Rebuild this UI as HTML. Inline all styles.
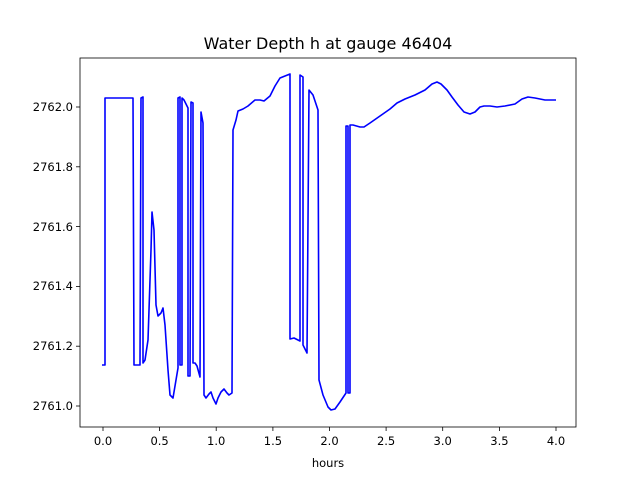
<!DOCTYPE html>
<html><head><meta charset="utf-8"><style>body{margin:0;background:#fff}svg{display:block}text{font-family:"DejaVu Sans","Liberation Sans",sans-serif;font-size:11.5px;fill:#000}</style></head>
<body>
<svg width="640" height="480" viewBox="0 0 640 480">
<rect width="640" height="480" fill="#fff"/>
<text x="328" y="49" text-anchor="middle" style="font-size:16px">Water Depth h at gauge 46404</text>
<polyline fill="none" stroke="#0000ff" stroke-width="1.6" stroke-linejoin="round" points="102,365 105,365 105,98 133,98 134,365 140,365 141,98 143,97 143,363 145,360 148,340 151,250 152,212 154,230 156,305 158,316 161,313 163,308 165,325 168,370 170,395 173,398 176,380 178,368 178,98 180,97 180,365 182,365 182,98 184,100 188,108 188,376 190,376 191,102 193,103 193,363 195,363 197,366 200,377 201,112 203,123 204,395 206,398 209,394 211,392 213,398 216,404 218,398 221,392 224,389 227,393 229,395 232,393 233,130 236,120 238,111 243,109 248,106 255,100 260,100 264,101 270,96 275,86 280,78 290,74 290,339 294,338 300,341 300,75 303,77 303,345 307,353 309,90 313,95 318,110 319,380 323,395 328,407 331,410 335,409 340,402 346,393 346,126 348,126 348,393 350,393 350,125 353,125 360,127 364,127 370,123 380,116 390,109 397,103 405,99 415,95 425,90 432,84 437,82 441,84 447,90 452,97 458,105 464,112 470,114 475,112 480,107 484,106 490,106 497,107 505,106 515,104 522,99 528,97 535,98 545,100 556,100"/>
<rect x="80" y="58" width="496" height="369" fill="none" stroke="#000" stroke-width="0.8"/>
<g stroke="#000" stroke-width="0.8">
<line x1="103" y1="427" x2="103" y2="431"/><line x1="159.6" y1="427" x2="159.6" y2="431"/><line x1="216.2" y1="427" x2="216.2" y2="431"/><line x1="272.9" y1="427" x2="272.9" y2="431"/><line x1="329.5" y1="427" x2="329.5" y2="431"/><line x1="386.1" y1="427" x2="386.1" y2="431"/><line x1="442.7" y1="427" x2="442.7" y2="431"/><line x1="499.4" y1="427" x2="499.4" y2="431"/><line x1="556" y1="427" x2="556" y2="431"/>
<line x1="76" y1="406" x2="80" y2="406"/><line x1="76" y1="346.2" x2="80" y2="346.2"/><line x1="76" y1="286.4" x2="80" y2="286.4"/><line x1="76" y1="226.6" x2="80" y2="226.6"/><line x1="76" y1="166.8" x2="80" y2="166.8"/><line x1="76" y1="107" x2="80" y2="107"/>
</g>
<g text-anchor="middle">
<text x="103" y="445">0.0</text><text x="159.6" y="445">0.5</text><text x="216.2" y="445">1.0</text><text x="272.9" y="445">1.5</text><text x="329.5" y="445">2.0</text><text x="386.1" y="445">2.5</text><text x="442.7" y="445">3.0</text><text x="499.4" y="445">3.5</text><text x="556" y="445">4.0</text>
<text x="328" y="467">hours</text>
</g>
<g text-anchor="end">
<text x="73" y="410">2761.0</text><text x="73" y="350">2761.2</text><text x="73" y="290">2761.4</text><text x="73" y="231">2761.6</text><text x="73" y="171">2761.8</text><text x="73" y="111">2762.0</text>
</g>
</svg>
</body></html>
